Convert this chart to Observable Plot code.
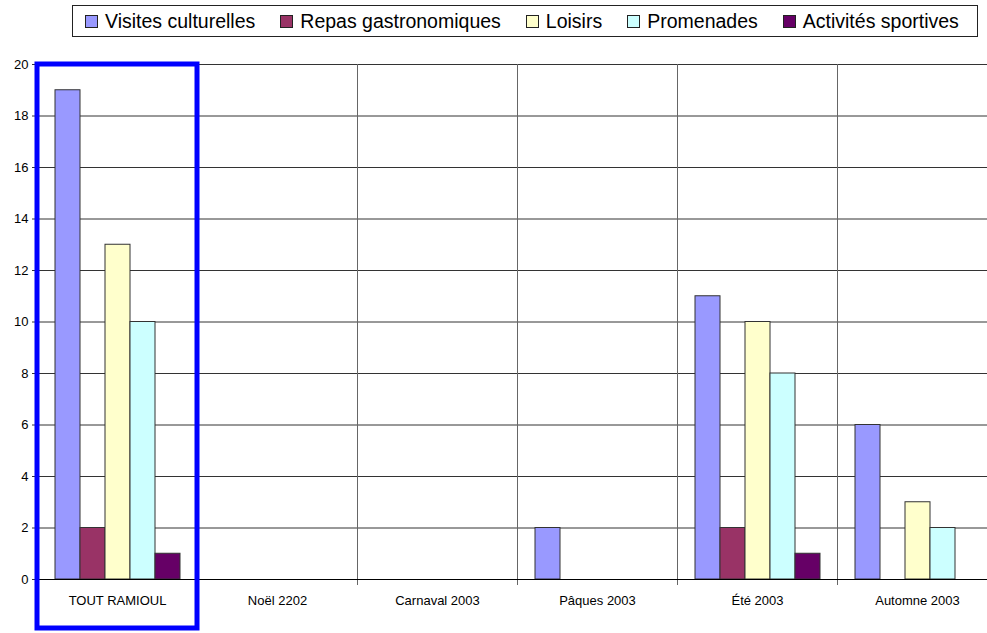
<!DOCTYPE html>
<html>
<head>
<meta charset="utf-8">
<script src="https://cdn.jsdelivr.net/npm/d3@7"></script>
<script src="https://cdn.jsdelivr.net/npm/@observablehq/plot@0.6"></script>
<style>
  html, body { margin: 0; padding: 0; background: #fff; overflow: hidden; }
  body { font-family: "Liberation Sans", Arial, sans-serif; color: #000; }
  #wrap { position: relative; width: 987px; height: 633px; }
  #legend {
    position: absolute; left: 72px; top: 5px; width: 892px; height: 30px;
    border: 1px solid #222; background: #fff; box-sizing: content-box;
    display: flex; align-items: center; padding-left: 12px; gap: 25px;
    font-size: 19.5px; white-space: nowrap;
  }
  .item { display: flex; align-items: center; gap: 7px; }
  .sw { width: 11px; height: 11px; border: 1px solid #222; display: inline-block; }
</style>
</head>
<body>
<div id="wrap"><div id="legend"></div><div id="chart"></div></div>
<script>
const categories = ["TOUT RAMIOUL", "Noël 2202", "Carnaval 2003", "Pâques 2003", "Été 2003", "Automne 2003"];
const series = ["Visites culturelles", "Repas gastronomiques", "Loisirs", "Promenades", "Activités sportives"];
const colors = ["#9999ff", "#993366", "#ffffcc", "#ccffff", "#660066"];
const visites = [19, 0, 0, 2, 11, 6];
const repas = [2, 0, 0, 0, 2, 0];
const loisirs = [13, 0, 0, 0, 10, 3];
const promenades = [10, 0, 0, 0, 8, 2];
const activites = [1, 0, 0, 0, 1, 0];
const yTicks = [0, 2, 4, 6, 8, 10, 12, 14, 16, 18, 20];
const highlighted = ["TOUT RAMIOUL"];

const valueArrays = [visites, repas, loisirs, promenades, activites];
const rows = [];
categories.forEach((c, i) => {
  series.forEach((s, j) => {
    rows.push({category: c, series: s, value: valueArrays[j][i]});
  });
});

// legend
const legend = document.getElementById("legend");
series.forEach((s, j) => {
  const it = document.createElement("div");
  it.className = "item";
  const sw = document.createElement("span");
  sw.className = "sw";
  sw.style.background = colors[j];
  const t = document.createElement("span");
  t.textContent = s;
  it.appendChild(sw); it.appendChild(t);
  legend.appendChild(it);
});

const chart = Plot.plot({
  width: 987,
  height: 633,
  marginLeft: 37,
  marginRight: 0,
  marginTop: 64,
  marginBottom: 54,
  style: {fontFamily: "Liberation Sans, Arial, sans-serif", fontSize: "13px", color: "#000", background: "#fff", overflow: "hidden"},
  fx: {domain: categories, range: [37, 997], padding: 0},
  x: {domain: series, paddingInner: 0, paddingOuter: 0.7, axis: null},
  y: {domain: [0, 20]},
  color: {domain: series, range: colors},
  marks: [
    Plot.ruleY(yTicks, {stroke: "#333", strokeWidth: 1}),
    Plot.frame({anchor: "left", stroke: "#666", insetBottom: -5}),
    Plot.barY(rows, {fx: "category", x: "series", y: "value", fill: "series", stroke: "#333", strokeWidth: 1}),
    Plot.ruleY([0], {stroke: "#000"}),
    Plot.axisY({ticks: yTicks, tickSize: 5, tickPadding: 4, fontSize: 13, label: null, stroke: "#333"}),
    Plot.axisFx({anchor: "bottom", tickSize: 0, tickPadding: 16, fontSize: 13, label: null}),
    Plot.rect(highlighted.map(c => ({category: c})), {fx: "category", y1: () => 20, y2: () => 0, fill: "none", stroke: "#0000ff", strokeWidth: 5, insetBottom: -49})
  ]
});
document.getElementById("chart").appendChild(chart);
</script>
</body>
</html>
